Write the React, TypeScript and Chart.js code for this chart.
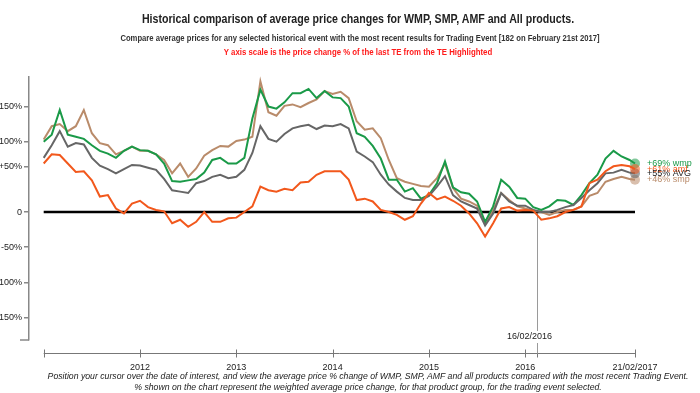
import React, { useEffect, useRef } from "react";
import { Chart, registerables } from "chart.js";
Chart.register(...registerables);

// ---- data (monthly readings from Jan 2011, last point = 21/02/2017) ----
const wmp = [100, 110, 145, 110, 107, 104, 95, 87, 83, 77, 87, 93, 88, 87, 82, 69, 44, 43, 45, 47, 56, 74, 77, 69, 69, 77, 133, 174, 150, 147, 156, 169, 169, 175, 162, 172, 163, 162, 150, 112, 107, 94, 76, 46, 46, 29, 34, 19, 24, 41, 72, 35, 28, 26, 15, -14, 8, 46, 36, 20, 19, 7, 3, 8, 17, 16, 10, 24, 41, 53, 76, 87, 79, 74, 69];
const smp = [103, 122, 125, 115, 122, 145, 112, 98, 95, 82, 87, 93, 87, 87, 82, 74, 55, 69, 50, 62, 80, 88, 94, 93, 101, 103, 107, 186, 142, 137, 151, 153, 149, 155, 160, 172, 168, 171, 162, 129, 117, 119, 105, 74, 48, 43, 40, 37, 36, 48, 69, 34, 19, 15, 9, -16, 3, 27, 17, 8, 5, 2, 0, -4, 0, 3, 3, 8, 23, 27, 43, 47, 50, 47, 46];
const avg = [77, 95, 115, 93, 98, 96, 77, 66, 61, 55, 61, 67, 66, 63, 60, 47, 31, 29, 27, 41, 44, 50, 53, 48, 50, 60, 84, 122, 104, 100, 111, 119, 122, 124, 118, 123, 122, 125, 119, 86, 79, 71, 53, 39, 29, 20, 17, 17, 23, 36, 51, 24, 15, 10, 5, -19, -2, 27, 15, 9, 9, 3, 0, 0, 3, 7, 10, 20, 31, 41, 55, 56, 60, 56, 55];
const amf = [69, 82, 81, 69, 57, 58, 45, 22, 24, 5, -2, 12, 16, 7, 3, 1, -16, -11, -21, -14, 0, -14, -14, -9, -8, 0, 8, 36, 31, 29, 33, 31, 42, 43, 53, 58, 58, 58, 46, 17, 19, 15, 3, 0, -4, -11, -6, 12, 27, 18, 22, 16, 9, -2, -16, -35, -16, 5, 7, 2, 3, 2, -11, -9, -6, 0, 3, 8, 41, 46, 58, 65, 67, 65, 61];

const startYear = 2011;
const endDate = 2017 + 51 / 365; // 21/02/2017
const dates = [...Array.from({ length: wmp.length - 1 }, (_, k) => startYear + k / 12), endDate];

const yTickValues = [-150, -100, -50, 0, 64, 100, 150];
const yTickLabels = ["-150%", "-100%", "-50%", "0", "+50%", "+100%", "+150%"];
const xTickValues = [2012, 2013, 2014, 2015, 2016, endDate];
const xTickLabels = ["2012", "2013", "2014", "2015", "2016", "21/02/2017"];
const markerDate = 2016 + 46 / 365;
const markerLabel = "16/02/2016";

const seriesNames = ["amf", "AVG", "wmp", "smp"];
const seriesValues = [amf, avg, wmp, smp];
const seriesColors = ["#f2581c", "#666666", "#1a9a48", "#b98b6a"];
const seriesDots = ["rgba(242,88,28,0.55)", "rgba(102,102,102,0.6)", "rgba(26,154,72,0.55)", "rgba(185,139,106,0.55)"];
const labelColors = ["#f2581c", "#222222", "#1a9a48", "#b98b6a"];

const FONT = "'Liberation Sans', Arial, sans-serif";

const overlay = {
  id: "overlay",
  beforeDatasetsDraw(chart: any) {
    const { ctx, scales, chartArea } = chart;
    const x = scales.x, y = scales.y;
    const x0 = x.getPixelForValue(dates[0]);
    const x1 = x.getPixelForValue(endDate);
    const yz = y.getPixelForValue(0);
    const xm = Math.round(x.getPixelForValue(markerDate)) + 0.5;
    ctx.save();
    ctx.strokeStyle = "#9a9a9a";
    ctx.lineWidth = 1;
    ctx.beginPath();
    ctx.moveTo(xm, yz);
    ctx.lineTo(xm, chartArea.bottom - 9);
    ctx.stroke();
    ctx.strokeStyle = "#000";
    ctx.lineWidth = 2.5;
    ctx.beginPath();
    ctx.moveTo(x0, yz);
    ctx.lineTo(x1, yz);
    ctx.stroke();
    ctx.restore();
  },
  afterDraw(chart: any) {
    const { ctx, scales, chartArea } = chart;
    const x = scales.x, y = scales.y;
    const x0 = x.getPixelForValue(dates[0]);
    const x1 = x.getPixelForValue(endDate);
    const axisY = chartArea.bottom + 13.5;
    const xm = Math.round(x.getPixelForValue(markerDate)) + 0.5;
    ctx.save();
    ctx.strokeStyle = "#777";
    ctx.lineWidth = 1;
    ctx.beginPath();
    ctx.moveTo(x0, axisY);
    ctx.lineTo(x1, axisY);
    const tickXs = [dates[0], ...xTickValues, markerDate];
    tickXs.forEach((v) => {
      const px = Math.round(x.getPixelForValue(v)) + 0.5;
      ctx.moveTo(px, axisY - 4);
      ctx.lineTo(px, axisY + 4);
    });
    ctx.stroke();
    ctx.strokeStyle = "#9a9a9a";
    ctx.beginPath();
    ctx.moveTo(xm, chartArea.bottom + 3);
    ctx.lineTo(xm, axisY);
    ctx.stroke();
    ctx.fillStyle = "#222";
    ctx.font = `9px ${FONT}`;
    ctx.textAlign = "center";
    ctx.textBaseline = "middle";
    ctx.fillText(markerLabel, xm - 8, chartArea.bottom - 3);
    ctx.strokeStyle = "#888";
    ctx.lineWidth = 1.5;
    ctx.beginPath();
    ctx.moveTo(chartArea.left - 9, chartArea.bottom);
    ctx.lineTo(chartArea.left, chartArea.bottom);
    ctx.stroke();
    ctx.textAlign = "left";
    ctx.font = `9px ${FONT}`;
    seriesNames.forEach((name, i) => {
      const vals = seriesValues[i];
      const v = vals[vals.length - 1];
      ctx.fillStyle = labelColors[i];
      ctx.fillText(`+${Math.round(v)}% ${name}`, x1 + 12, y.getPixelForValue(v));
    });
    ctx.restore();
  },
};

export default function App() {
  const ref = useRef<HTMLCanvasElement | null>(null);
  useEffect(() => {
    if (!ref.current) return;
    const last = dates.length - 1;
    const chart = new Chart(ref.current, {
      type: "line",
      data: {
        datasets: seriesNames.map((name, i) => ({
          label: name,
          data: seriesValues[i].map((v, k) => ({ x: dates[k], y: v })),
          borderColor: seriesColors[i],
          backgroundColor: seriesDots[i],
          borderWidth: 2,
          tension: 0,
          fill: false,
          clip: false as any,
          pointRadius: (c: any) => (c.dataIndex === last ? 5 : 0),
          pointBackgroundColor: seriesDots[i],
          pointBorderWidth: 0,
          pointHoverRadius: 0,
        })),
      },
      options: {
        animation: false,
        responsive: false,
        maintainAspectRatio: false,
        layout: { padding: { left: 0, right: 65, top: 77, bottom: 18 } },
        plugins: { legend: { display: false }, tooltip: { enabled: false }, title: { display: false } },
        scales: {
          x: {
            type: "linear",
            min: 2011 - 14.7 / 96.3,
            max: endDate,
            afterBuildTicks: (s: any) => {
              s.ticks = xTickValues.map((v) => ({ value: v }));
            },
            afterFit: (s: any) => {
              s.height = 35;
            },
            ticks: {
              autoSkip: false,
              maxRotation: 0,
              padding: 14,
              color: "#222",
              font: { size: 9, family: FONT },
              callback: (_v: any, i: number) => xTickLabels[i],
            },
            grid: { display: false },
            border: { display: false },
          },
          y: {
            min: -182,
            max: 192,
            afterBuildTicks: (s: any) => {
              s.ticks = yTickValues.map((v) => ({ value: v }));
            },
            afterFit: (s: any) => {
              s.width = 39;
            },
            ticks: {
              padding: 2,
              color: "#222",
              font: { size: 9, family: FONT },
              callback: (_v: any, i: number) => yTickLabels[i],
            },
            grid: { drawOnChartArea: false, drawTicks: true, tickLength: 5, color: "#888", lineWidth: 1.5 },
            border: { display: true, color: "#888", width: 1.5 },
          },
        },
      },
      plugins: [overlay],
    });
    return () => chart.destroy();
  }, []);

  const line = (top: number, center: number, sx: number, style: React.CSSProperties, text: string) => (
    <div
      style={{
        position: "absolute",
        top,
        left: center - 400,
        width: 800,
        textAlign: "center",
        whiteSpace: "nowrap",
        lineHeight: "12px",
        transform: `scaleX(${sx})`,
        transformOrigin: "50% 50%",
        fontFamily: FONT,
        ...style,
      }}
    >
      {text}
    </div>
  );

  return (
    <div style={{ position: "fixed", left: 0, top: 0, width: 700, height: 393, overflow: "hidden", background: "#fff" }}>
      <canvas ref={ref} width={710} height={393} style={{ position: "absolute", left: -10, top: 0, width: 710, height: 393 }} />
      {line(13, 358, 0.85, { fontWeight: "bold", fontSize: 12.5, color: "#222" }, "Historical comparison of average price changes for WMP, SMP, AMF and All products.")}
      {line(32, 360, 0.9, { fontWeight: "bold", fontSize: 8.5, color: "#333" }, "Compare average prices for any selected historical event with the most recent results for Trading Event [182 on February 21st 2017]")}
      {line(46, 358, 0.92, { fontWeight: "bold", fontSize: 8.5, color: "#ff1a1a" }, "Y axis scale is the price change % of the last TE from the TE Highlighted")}
      {line(370, 368, 1, { fontStyle: "italic", fontSize: 8.7, color: "#222" }, "Position your cursor over the date of interest, and view the average price % change of WMP, SMP, AMF and all products compared with the most recent Trading Event.")}
      {line(381, 368, 1, { fontStyle: "italic", fontSize: 8.7, color: "#222" }, "% shown on the chart represent the weighted average price change, for that product group, for the trading event selected.")}
    </div>
  );
}
